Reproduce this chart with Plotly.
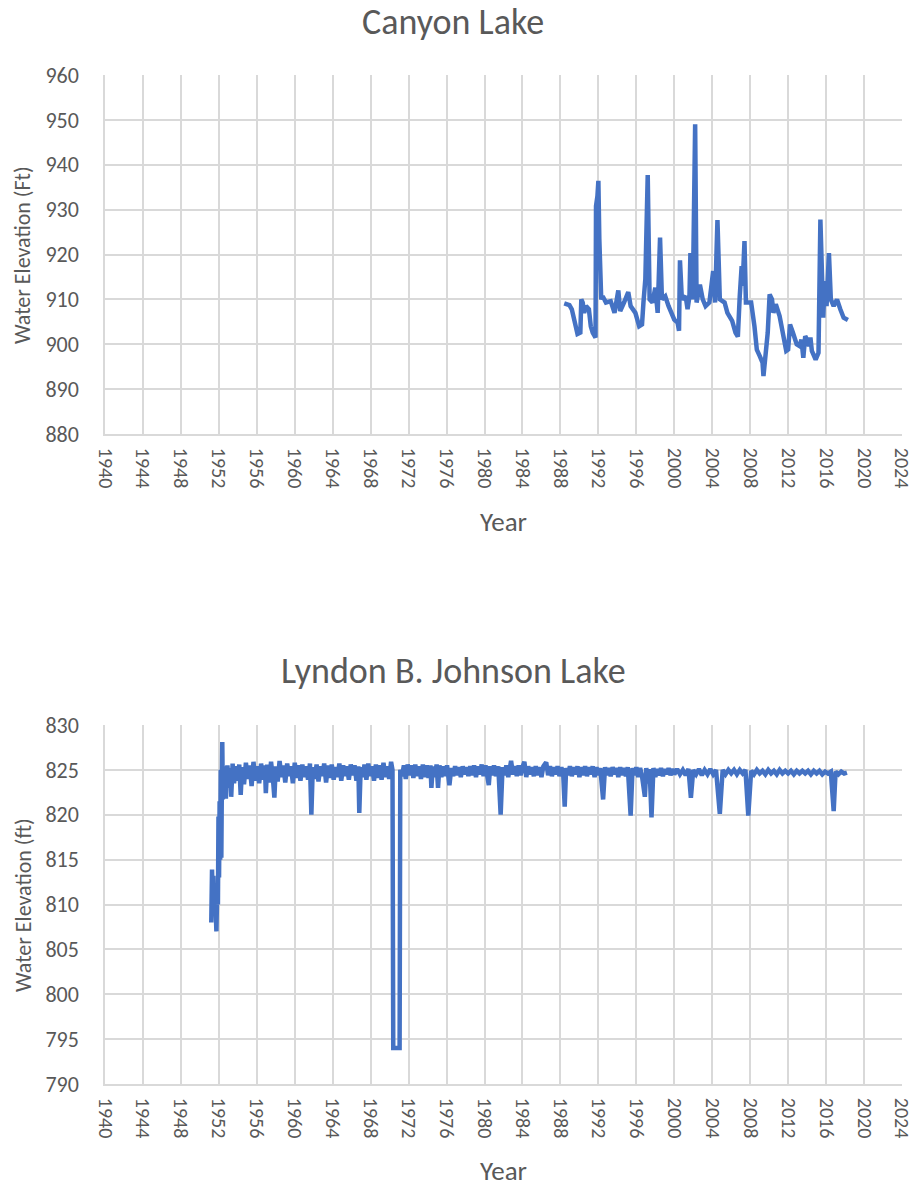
import plotly.graph_objects as go

# ---------------- Canyon Lake data ----------------
canyon_years = [1988.4, 1988.95, 1989.2, 1989.65, 1989.8, 1990.1, 1990.2, 1990.35, 1990.5, 1990.7,
                1991.0, 1991.2, 1991.4, 1991.7, 1991.75, 1991.9, 1992.0, 1992.1, 1992.2, 1992.3,
                1992.45, 1992.8, 1993.3, 1993.7, 1994.1, 1994.3, 1994.7, 1995.15, 1995.4, 1995.9,
                1996.3, 1996.6, 1996.75, 1996.95, 1997.2, 1997.4, 1997.7, 1998.0, 1998.25, 1998.5,
                1998.7, 1999.05, 1999.4, 2000.0, 2000.35, 2000.5, 2000.6, 2000.8, 2001.2, 2001.4,
                2001.6, 2001.7, 2001.95, 2002.2, 2002.35, 2002.7, 2003.0, 2003.3, 2003.7, 2003.9,
                2004.1, 2004.3, 2004.55, 2004.8, 2005.3, 2005.6, 2006.1, 2006.45, 2006.7, 2006.9,
                2007.1, 2007.2, 2007.4, 2007.55, 2008.1, 2008.45, 2008.7, 2009.0, 2009.3, 2009.4,
                2009.65, 2009.85, 2010.05, 2010.3, 2010.45, 2010.7, 2011.1, 2011.45, 2011.8, 2012.0,
                2012.2, 2012.5, 2012.9, 2013.2, 2013.4, 2013.6, 2013.8, 2014.0, 2014.2, 2014.35,
                2014.5, 2014.9, 2015.2, 2015.4, 2015.55, 2015.7, 2015.85, 2016.05, 2016.3, 2016.5,
                2016.8, 2017.15, 2017.5, 2017.85, 2018.3]
canyon_levels = [909.1, 908.7, 907.8, 904.0, 902.3, 902.6, 910.0, 909.3, 907.0, 908.5,
                 907.8, 904.0, 902.6, 901.5, 930.8, 933.0, 936.4, 923.4, 919.0, 910.0,
                 910.7, 909.3, 909.6, 907.0, 912.0, 907.4, 909.3, 911.6, 908.5, 907.0,
                 904.0, 904.4, 909.3, 914.5, 937.7, 910.0, 909.3, 912.6, 907.0, 923.8,
                 910.0, 910.7, 908.5, 905.5, 904.8, 903.0, 918.7, 910.0, 910.7, 907.8,
                 910.7, 920.3, 910.0, 949.0, 909.3, 913.3, 910.0, 908.5, 909.3, 914.1,
                 916.3, 909.3, 927.7, 910.0, 909.3, 907.0, 905.2, 902.6, 901.7, 910.7,
                 917.4, 913.0, 923.0, 909.3, 909.3, 904.0, 898.8, 897.4, 895.9, 892.9,
                 897.4, 902.6, 911.1, 910.0, 907.0, 908.9, 906.3, 902.6, 898.5, 898.8,
                 904.4, 902.6, 900.0, 899.6, 901.0, 897.0, 901.8, 901.0, 899.6, 901.5,
                 898.5, 896.6, 898.1, 927.8, 910.0, 905.9, 914.1, 908.5, 920.3, 910.0,
                 908.5, 910.0, 907.8, 905.9, 905.4]

# ---------------- Lyndon B. Johnson Lake data ----------------
lbj_years = [
    1951.20, 1951.28, 1951.35, 1951.42, 1951.50, 1951.58, 1951.66, 1951.74, 1951.82, 1951.90,
    1951.96, 1952.02, 1952.08, 1952.14, 1952.20, 1952.26, 1952.32, 1952.36, 1952.42, 1952.50,
    1952.58, 1952.66, 1952.74,
    1952.90, 1953.10, 1953.25, 1953.30, 1953.45, 1953.60, 1953.80, 1954.00, 1954.15, 1954.30,
    1954.45, 1954.65, 1954.85, 1955.05, 1955.25, 1955.45, 1955.65, 1955.85, 1956.05, 1956.25,
    1956.45, 1956.65, 1956.85, 1956.95, 1957.10, 1957.30, 1957.50, 1957.70, 1957.85, 1958.00,
    1958.20, 1958.40, 1958.60, 1958.80, 1959.00, 1959.20, 1959.40, 1959.60, 1959.80, 1960.00,
    1960.20, 1960.40, 1960.60, 1960.80, 1961.00, 1961.20, 1961.40, 1961.60, 1961.75, 1961.90,
    1962.10, 1962.30, 1962.50, 1962.70, 1962.90, 1963.10, 1963.30, 1963.50, 1963.70, 1963.90,
    1964.10, 1964.30, 1964.50, 1964.70, 1964.90, 1965.10, 1965.30, 1965.50, 1965.70, 1965.90,
    1966.10, 1966.30, 1966.50, 1966.70, 1966.80, 1966.95, 1967.15, 1967.35, 1967.55, 1967.75,
    1967.95, 1968.15, 1968.35, 1968.55, 1968.75, 1968.95, 1969.15, 1969.35, 1969.55, 1969.75,
    1969.95, 1970.15, 1970.30,
    1970.38, 1971.05, 1971.12,
    1971.30, 1971.50, 1971.70, 1971.90, 1972.10, 1972.30, 1972.50, 1972.70, 1972.90, 1973.10,
    1973.30, 1973.50, 1973.70, 1973.90, 1974.10, 1974.30, 1974.40, 1974.55, 1974.75, 1974.95,
    1975.10, 1975.25, 1975.45, 1975.65, 1975.85, 1976.05, 1976.30, 1976.50, 1976.70, 1976.90,
    1977.10, 1977.30, 1977.50, 1977.70, 1977.90, 1978.10, 1978.30, 1978.50, 1978.70, 1978.90,
    1979.10, 1979.30, 1979.50, 1979.70, 1979.90, 1980.10, 1980.45, 1980.60, 1980.80, 1981.00,
    1981.20, 1981.45, 1981.70, 1981.90, 1982.10, 1982.30, 1982.50, 1982.80, 1983.00, 1983.20,
    1983.40, 1983.60, 1983.80, 1984.00, 1984.20, 1984.40, 1984.60, 1984.80, 1985.00, 1985.20,
    1985.40, 1985.60, 1985.80, 1986.00, 1986.20, 1986.50, 1986.70, 1986.90, 1987.10, 1987.30,
    1987.50, 1987.70, 1987.90, 1988.10, 1988.30, 1988.45, 1988.60, 1988.80, 1989.00, 1989.20,
    1989.40, 1989.60, 1989.80, 1990.00, 1990.20, 1990.40, 1990.60, 1990.80, 1991.00, 1991.20,
    1991.40, 1991.60, 1991.80, 1992.00, 1992.20, 1992.50, 1992.70, 1992.90, 1993.10, 1993.30,
    1993.50, 1993.70, 1993.90, 1994.10, 1994.30, 1994.50, 1994.70, 1994.90, 1995.10, 1995.40,
    1995.60, 1995.80, 1996.00, 1996.20, 1996.40, 1996.60, 1996.90, 1997.05, 1997.20, 1997.40,
    1997.60, 1997.80, 1998.00, 1998.20, 1998.40, 1998.60, 1998.80, 1999.00, 1999.20, 1999.40,
    1999.60, 1999.80, 2000.00,
    2000.30, 2000.60, 2000.90, 2001.20, 2001.50, 2001.75, 2002.00, 2002.30, 2002.60, 2002.90,
    2003.20, 2003.50, 2003.80, 2004.10, 2004.40, 2004.80, 2005.10, 2005.40, 2005.70, 2006.00,
    2006.30, 2006.60, 2006.90, 2007.20, 2007.50, 2007.80, 2008.10, 2008.40, 2008.70, 2009.00,
    2009.30, 2009.60, 2009.90, 2010.20, 2010.50, 2010.80, 2011.10, 2011.40, 2011.70, 2012.00,
    2012.30, 2012.60, 2012.90, 2013.20, 2013.50, 2013.80, 2014.10, 2014.40, 2014.70, 2015.00,
    2015.30, 2015.60, 2015.90, 2016.20, 2016.50, 2016.80, 2017.00, 2017.30, 2017.60, 2017.90,
    2018.20]
lbj_levels = [
    808.0, 813.9, 810.5, 813.2, 809.5, 812.0, 808.3, 807.0, 811.3, 810.0,
    819.8, 813.0, 821.5, 815.0, 825.0, 815.2, 824.0, 828.1, 821.7, 825.0,
    822.5, 825.4, 821.8,
    825.5, 823.0, 825.2, 822.0, 825.7, 823.5, 825.4, 823.8, 825.6, 822.2,
    825.3, 823.4, 825.8, 824.0, 825.5, 823.2, 825.9, 823.8, 825.4, 823.5,
    825.7, 823.9, 825.5, 822.4, 825.6, 823.6, 825.9, 824.0, 821.9, 825.4,
    823.7, 826.0, 824.2, 825.5, 823.6, 825.7, 824.3, 825.4, 823.5, 825.8,
    824.1, 825.5, 823.8, 825.6, 824.2, 825.4, 823.9, 825.7, 820.0, 825.3,
    824.0, 825.6, 823.7, 825.4, 824.3, 825.7, 823.6, 825.5, 824.1, 825.6,
    823.9, 825.3, 824.2, 825.7, 823.8, 825.5, 824.3, 825.4, 823.9, 825.6,
    824.4, 825.5, 823.8, 825.4, 820.2, 825.3, 824.2, 825.6, 823.9, 825.7,
    824.3, 825.4, 823.8, 825.6, 824.1, 825.5, 823.9, 825.8, 824.2, 825.4,
    824.0, 825.9, 825.0,
    794.0, 794.0, 825.0,
    824.3, 825.5, 824.0, 825.6, 824.4, 825.5, 824.1, 825.6, 824.3, 825.4,
    824.0, 825.6, 824.2, 825.5, 824.1, 825.5, 823.0, 825.4, 824.2, 825.6,
    823.0, 825.5, 824.2, 825.4, 824.3, 825.5, 823.3, 825.2, 824.3, 825.4,
    824.4, 825.3, 824.2, 825.4, 824.5, 825.3, 824.3, 825.4, 824.4, 825.5,
    824.2, 825.4, 824.5, 825.6, 824.3, 825.5, 823.3, 825.4, 824.4, 825.5,
    824.3, 825.4, 820.0, 825.3, 824.4, 825.5, 824.2, 826.0, 824.5, 825.4,
    824.3, 825.5, 824.4, 825.3, 825.9, 824.2, 825.4, 824.5, 825.3, 824.3,
    825.4, 824.4, 825.3, 824.2, 825.4, 825.85, 824.4, 825.4, 824.3, 825.3,
    824.5, 825.4, 824.3, 825.3, 824.4, 820.9, 825.2, 824.4, 825.4, 824.3,
    825.3, 824.5, 825.4, 824.2, 825.3, 824.4, 825.4, 824.3, 825.3, 824.5,
    825.4, 824.2, 825.3, 824.4, 825.2, 821.7, 825.3, 824.4, 825.2, 824.3,
    825.3, 824.5, 825.2, 824.2, 825.3, 824.4, 825.2, 824.3, 825.3, 819.9,
    825.2, 824.4, 825.3, 824.2, 825.2, 824.3, 822.0, 825.2, 823.5, 825.1,
    819.7, 825.2, 824.2, 825.1, 824.4, 825.2, 824.3, 825.1, 824.5, 825.2,
    824.4, 825.1, 824.5,
    825.1, 824.5, 825.0, 824.4, 825.1, 821.9, 825.0, 824.5, 825.1, 824.4,
    825.0, 824.5, 825.1, 824.5, 825.0, 820.1, 825.0, 824.5, 825.0, 824.6,
    825.0, 824.5, 825.0, 824.6, 825.0, 819.9, 824.9, 824.5, 825.0, 824.6,
    824.9, 824.5, 825.0, 824.6, 824.9, 824.5, 825.0, 824.6, 824.9, 824.6,
    824.9, 824.5, 824.9, 824.6, 824.9, 824.6, 824.9, 824.5, 824.9, 824.6,
    824.9, 824.5, 824.8, 824.6, 824.8, 820.4, 824.8, 824.5, 824.8, 824.6,
    824.7]

chart_titles = ["Canyon Lake", "Lyndon B. Johnson Lake"]
y_titles = ["Water Elevation (Ft)", "Water Elevation (ft)"]
x_title = "Year"
x_range = [1940, 2024]
x_ticks = [1940, 1944, 1948, 1952, 1956, 1960, 1964, 1968, 1972, 1976, 1980,
           1984, 1988, 1992, 1996, 2000, 2004, 2008, 2012, 2016, 2020, 2024]
canyon_range = [880, 960]
lbj_range = [790, 830]

W, H = 916, 1187
FONT = "Carlito, Lato, sans-serif"
TXT = "#595959"
GRID = "#D9D9D9"
LINE = "#4472C4"

def py(pix):
    return 1 - pix / H

def px(pix):
    return pix / W

fig = go.Figure()
fig.add_trace(go.Scatter(x=canyon_years, y=canyon_levels, mode="lines",
                         line=dict(color=LINE, width=4.5), xaxis="x", yaxis="y",
                         showlegend=False))
fig.add_trace(go.Scatter(x=lbj_years, y=lbj_levels, mode="lines",
                         line=dict(color=LINE, width=4.5), xaxis="x2", yaxis="y2",
                         showlegend=False))

xcommon = dict(range=[x_range[0] - 0.001, x_range[1] + 0.001],
               tickmode="array", tickvals=x_ticks, ticktext=[str(t) for t in x_ticks],
               tickangle=90, showgrid=True,
               gridcolor=GRID, gridwidth=1.5, showline=True, linecolor=GRID, linewidth=1.5,
               zeroline=False, ticks="", ticklabelstandoff=8, automargin=False,
               ticklabeloverflow="allow",
               tickfont=dict(family=FONT, size=20, color=TXT), fixedrange=True)
ycommon = dict(showgrid=True, gridcolor=GRID, gridwidth=1.5, showline=True, linecolor=GRID,
               linewidth=1.5, zeroline=False, ticks="", ticklabelstandoff=20, automargin=False,
               tickfont=dict(family=FONT, size=22, color=TXT), fixedrange=True)

dom_x = [px(105), px(902)]
fig.update_layout(
    width=W, height=H, margin=dict(l=0, r=0, t=0, b=0, autoexpand=False),
    paper_bgcolor="white", plot_bgcolor="white",
    xaxis=dict(domain=dom_x, anchor="y", **xcommon),
    yaxis=dict(domain=[py(434), py(75)], anchor="x", range=canyon_range, dtick=10, **ycommon),
    xaxis2=dict(domain=dom_x, anchor="y2", **xcommon),
    yaxis2=dict(domain=[py(1084), py(725)], anchor="x2", range=lbj_range, dtick=5, **ycommon),
)

anns = [
    dict(text=chart_titles[0], x=px(453), y=py(22)),
    dict(text=chart_titles[1], x=px(453), y=py(671)),
]
for a in anns:
    fig.add_annotation(xref="paper", yref="paper", xanchor="center", yanchor="middle",
                       showarrow=False, font=dict(family=FONT, size=36, color=TXT), **a)
for ytxt, cy in [(y_titles[0], 255), (y_titles[1], 905)]:
    fig.add_annotation(xref="paper", yref="paper", x=px(23), y=py(cy), text=ytxt,
                       textangle=-90, xanchor="center", yanchor="middle", showarrow=False,
                       font=dict(family=FONT, size=22, color=TXT))
for cy in [521, 1170]:
    fig.add_annotation(xref="paper", yref="paper", x=px(503), y=py(cy), text=x_title,
                       xanchor="center", yanchor="middle", showarrow=False,
                       font=dict(family=FONT, size=27, color=TXT))

fig.write_html("out.html", config={"displayModeBar": False},
               post_script="document.body.style.margin='0';document.body.style.overflow='hidden';")
